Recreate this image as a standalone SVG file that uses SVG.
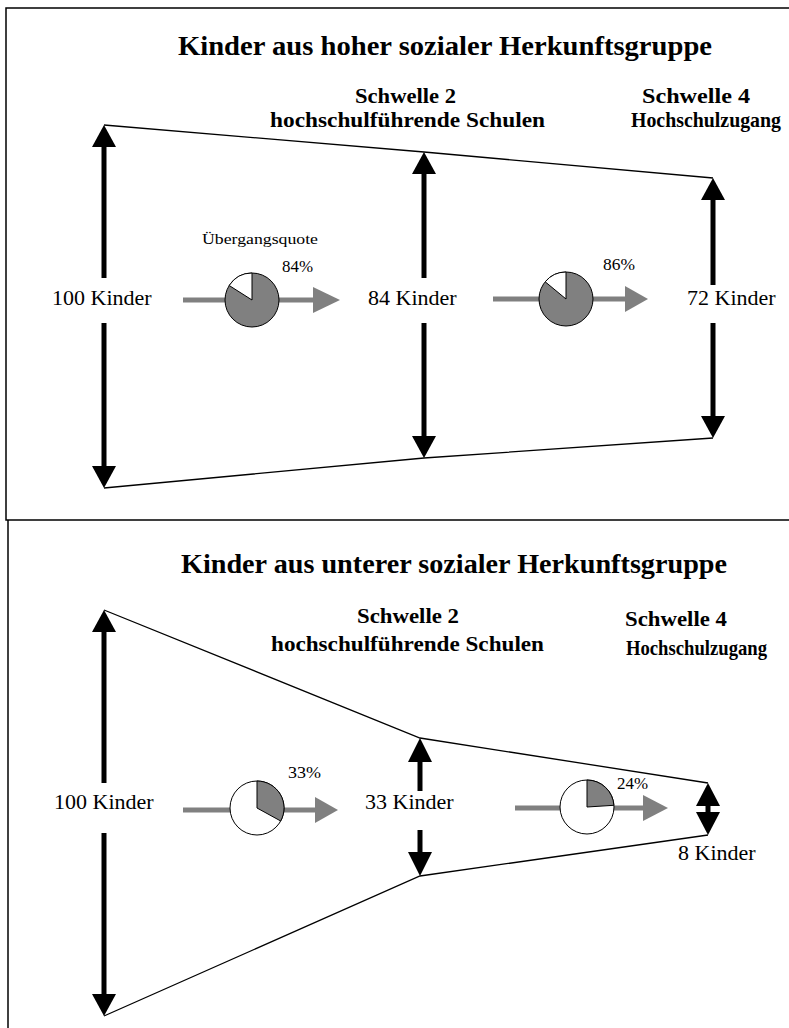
<svg xmlns="http://www.w3.org/2000/svg" width="789" height="1028" viewBox="0 0 789 1028">
<defs>
<style>
.frame{fill:none;stroke:#000;stroke-width:1.5}
.funnel{fill:none;stroke:#000;stroke-width:1.3}
.shaft{stroke:#000;stroke-width:5;fill:none}
.head{fill:#000}
.gshaft{stroke:#808080;stroke-width:5;fill:none}
.ghead{fill:#808080}
.pie{stroke:#000;stroke-width:1}
.title{font-family:"Liberation Serif","Times New Roman",serif;font-weight:bold;font-size:27px;fill:#000}
.sub{font-family:"Liberation Serif","Times New Roman",serif;font-weight:bold;font-size:21px;fill:#000}
.lbl{font-family:"Liberation Serif","Times New Roman",serif;font-size:22px;fill:#000}
.pct{font-family:"Liberation Serif","Times New Roman",serif;font-size:16px;fill:#000}
.small{font-family:"Liberation Serif","Times New Roman",serif;font-size:15px;fill:#000}
</style>
</defs>
<rect width="789" height="1028" fill="#fff"/>

<g id="frames">
<path class="frame" d="M789,8 H6 V520 H789"/>
<path class="frame" d="M8,520 V1028"/>
</g>

<!-- Top panel -->
<g id="top-panel">
<text class="title" x="178" y="55" textLength="534" lengthAdjust="spacingAndGlyphs">Kinder aus hoher sozialer Herkunftsgruppe</text>
<g id="top-schwelle2">
<text class="sub" x="355" y="103" textLength="101" lengthAdjust="spacingAndGlyphs">Schwelle 2</text>
<text class="sub" x="270" y="127" textLength="275" lengthAdjust="spacingAndGlyphs">hochschulführende Schulen</text>
</g>
<g id="top-schwelle4">
<text class="sub" x="642" y="103" textLength="108" lengthAdjust="spacingAndGlyphs">Schwelle 4</text>
<text class="sub" x="631" y="127" textLength="150" lengthAdjust="spacingAndGlyphs">Hochschulzugang</text>
</g>

<g id="top-connectors">
<polyline class="funnel" points="104,125 424,152 713,178"/>
<polyline class="funnel" points="104,488 424,458 713,438"/>
<line class="shaft" x1="104" y1="145" x2="104" y2="278"/>
<line class="shaft" x1="104" y1="323" x2="104" y2="468"/>
<polygon class="head" points="104,125 116,147 92,147"/>
<polygon class="head" points="104,488 116,466 92,466"/>
<line class="shaft" x1="424" y1="172" x2="424" y2="278"/>
<line class="shaft" x1="424" y1="323" x2="424" y2="438"/>
<polygon class="head" points="424,152 436,174 412,174"/>
<polygon class="head" points="424,458 436,436 412,436"/>
<line class="shaft" x1="713" y1="198" x2="713" y2="285"/>
<line class="shaft" x1="713" y1="323" x2="713" y2="418"/>
<polygon class="head" points="713,178 725,200 701,200"/>
<polygon class="head" points="713,438 725,416 701,416"/>
<line class="gshaft" x1="183" y1="300" x2="315" y2="300"/>
<polygon class="ghead" points="340,300 313,287 313,313"/>
<line class="gshaft" x1="493" y1="299" x2="627" y2="299"/>
<polygon class="ghead" points="648,299 625,286 625,312"/>
</g>

<g id="top-100"><text class="lbl" x="52" y="305">100 Kinder</text></g>
<g id="top-84"><text class="lbl" x="368" y="305">84 Kinder</text></g>
<g id="top-72"><text class="lbl" x="687" y="305">72 Kinder</text></g>

<g id="top-pie1">
<text class="small" x="202" y="244" textLength="116" lengthAdjust="spacingAndGlyphs">Übergangsquote</text>
<circle class="pie" cx="252" cy="300" r="27" fill="#808080"/>
<path class="pie" fill="#fff" d="M252,300 L252,273 A27,27 0 0 0 229.2,285.5 Z"/>
<text class="pct" x="282" y="272" textLength="31" lengthAdjust="spacingAndGlyphs">84%</text>
</g>
<g id="top-pie2">
<circle class="pie" cx="566" cy="299" r="27" fill="#808080"/>
<path class="pie" fill="#fff" d="M566,299 L566,272 A27,27 0 0 0 545.2,281.8 Z"/>
<text class="pct" x="603" y="270" textLength="32" lengthAdjust="spacingAndGlyphs">86%</text>
</g>
</g>

<!-- Bottom panel -->
<g id="bottom-panel">
<text class="title" x="181" y="573" textLength="546" lengthAdjust="spacingAndGlyphs">Kinder aus unterer sozialer Herkunftsgruppe</text>
<g id="bot-schwelle2">
<text class="sub" x="357" y="623" textLength="102" lengthAdjust="spacingAndGlyphs">Schwelle 2</text>
<text class="sub" x="271" y="651" textLength="273" lengthAdjust="spacingAndGlyphs">hochschulführende Schulen</text>
</g>
<g id="bot-schwelle4">
<text class="sub" x="625" y="626" textLength="102" lengthAdjust="spacingAndGlyphs">Schwelle 4</text>
<text class="sub" x="626" y="655" textLength="141" lengthAdjust="spacingAndGlyphs">Hochschulzugang</text>
</g>

<g id="bottom-connectors">
<polyline class="funnel" points="104,610 420,738 708,783"/>
<polyline class="funnel" points="104,1016 420,876 708,835"/>
<line class="shaft" x1="104" y1="630" x2="104" y2="783"/>
<line class="shaft" x1="104" y1="833" x2="104" y2="996"/>
<polygon class="head" points="104,610 116,632 92,632"/>
<polygon class="head" points="104,1016 116,994 92,994"/>
<line class="shaft" x1="420" y1="758" x2="420" y2="791"/>
<line class="shaft" x1="420" y1="830" x2="420" y2="856"/>
<polygon class="head" points="420,738 432,762 408,762"/>
<polygon class="head" points="420,876 432,852 408,852"/>
<line class="shaft" x1="708" y1="804" x2="708" y2="814"/>
<polygon class="head" points="708,783 720,806 696,806"/>
<polygon class="head" points="708,835 720,812 696,812"/>
<line class="gshaft" x1="183" y1="810" x2="317" y2="810"/>
<polygon class="ghead" points="338,810 315,797 315,823"/>
<line class="gshaft" x1="515" y1="808" x2="645" y2="808"/>
<polygon class="ghead" points="668,808 643,795 643,821"/>
</g>

<g id="bot-100"><text class="lbl" x="54" y="809">100 Kinder</text></g>
<g id="bot-33"><text class="lbl" x="365" y="809">33 Kinder</text></g>
<g id="bot-8"><text class="lbl" x="678" y="860">8 Kinder</text></g>

<g id="bot-pie1">
<circle class="pie" cx="257" cy="808" r="27" fill="#fff"/>
<path class="pie" fill="#808080" d="M257,808 L257,781 A27,27 0 0 1 280.7,821 Z"/>
<text class="pct" x="288" y="778" textLength="33" lengthAdjust="spacingAndGlyphs">33%</text>
</g>
<g id="bot-pie2">
<circle class="pie" cx="587" cy="807" r="27" fill="#fff"/>
<path class="pie" fill="#808080" d="M587,807 L587,780 A27,27 0 0 1 613.9,805.3 Z"/>
<text class="pct" x="617" y="789" textLength="31" lengthAdjust="spacingAndGlyphs">24%</text>
</g>
</g>
</svg>
